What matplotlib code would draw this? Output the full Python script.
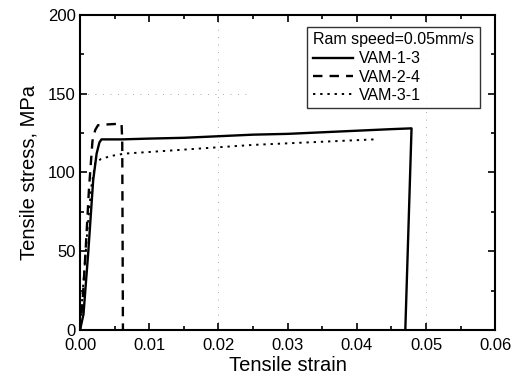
import matplotlib
matplotlib.use("Agg")
import matplotlib.pyplot as plt
from matplotlib.ticker import MultipleLocator

plt.rcParams['font.family'] = ['Liberation Sans', 'DejaVu Sans']

# stress-strain curves, ram speed 0.05 mm/s
strain_13 = [0.0, 0.0005, 0.0012, 0.0019, 0.0024, 0.0028, 0.0031, 0.006, 0.010,
             0.015, 0.020, 0.025, 0.030, 0.035, 0.040, 0.045, 0.0479, 0.0470]
stress_13 = [0, 10, 50, 95, 112, 119, 121, 121, 121.5,
             122, 123, 124, 124.5, 125.5, 126.5, 127.5, 128, 0]

strain_24 = [0.0, 0.0004, 0.0008, 0.0013, 0.0018, 0.0022, 0.0026, 0.0040,
             0.0060, 0.0061, 0.0062]
stress_24 = [0, 20, 50, 90, 120, 127, 130, 130.5,
             131, 120, 0]

strain_31 = [0.0, 0.0004, 0.0010, 0.0016, 0.0022, 0.0030, 0.0045, 0.0065,
             0.010, 0.015, 0.020, 0.025, 0.030, 0.035, 0.040, 0.0425]
stress_31 = [0, 25, 60, 90, 106, 108.5, 110.5, 112,
             113, 114.5, 116, 117.5, 118.5, 119.5, 120.5, 121]

labels = ['VAM-1-3', 'VAM-2-4', 'VAM-3-1']

fig = plt.figure(figsize=(5.23, 3.82), dpi=100)
ax = fig.add_axes([0.153, 0.136, 0.794, 0.825])

# faint scan-line dots
for xv in (0.02, 0.05):
    ax.axvline(xv, color='0.55', lw=0.6, ls=(0, (1, 8)), zorder=0)
ax.axhline(150, xmax=0.4, color='0.55', lw=0.6, ls=(0, (1, 8)), zorder=0)

ax.plot(strain_13, stress_13, color='black', lw=1.7, ls='-', label=labels[0])
ax.plot(strain_24, stress_24, color='black', lw=1.7, ls=(0, (4, 3)), label=labels[1])
ax.plot(strain_31, stress_31, color='black', lw=1.4, ls=(0, (1.2, 2.5)), label=labels[2])

ax.set_xlim(0, 0.06)
ax.set_ylim(0, 200)
ax.xaxis.set_major_locator(MultipleLocator(0.01))
ax.xaxis.set_minor_locator(MultipleLocator(0.005))
ax.yaxis.set_major_locator(MultipleLocator(50))
ax.yaxis.set_minor_locator(MultipleLocator(25))
ax.xaxis.set_major_formatter(plt.FuncFormatter(lambda v, p: f"{v:.2f}"))
ax.tick_params(which='both', direction='in', top=True, right=True, width=1.2)
ax.tick_params(which='major', length=5, labelsize=12, pad=3)
ax.tick_params(axis='x', which='major', pad=6)
ax.tick_params(which='minor', length=3)
for s in ax.spines.values():
    s.set_linewidth(1.5)

ax.set_xlabel('Tensile strain', fontsize=14.5, labelpad=2)
ax.set_ylabel('Tensile stress, MPa', fontsize=14.5, labelpad=7)

leg = ax.legend(title='Ram speed=0.05mm/s', loc='upper right',
                bbox_to_anchor=(0.962, 0.963), fontsize=11.5, title_fontsize=11.5,
                frameon=True, fancybox=False, edgecolor='black',
                handlelength=2.5, borderaxespad=0, labelspacing=0.2,
                handletextpad=0.35, borderpad=0.35)
leg.get_frame().set_linewidth(1.0)
leg._legend_box.align = 'left'
leg.get_title().set_ha('left')
leg._legend_box.sep = 3

fig.savefig('out.png', dpi=100)
